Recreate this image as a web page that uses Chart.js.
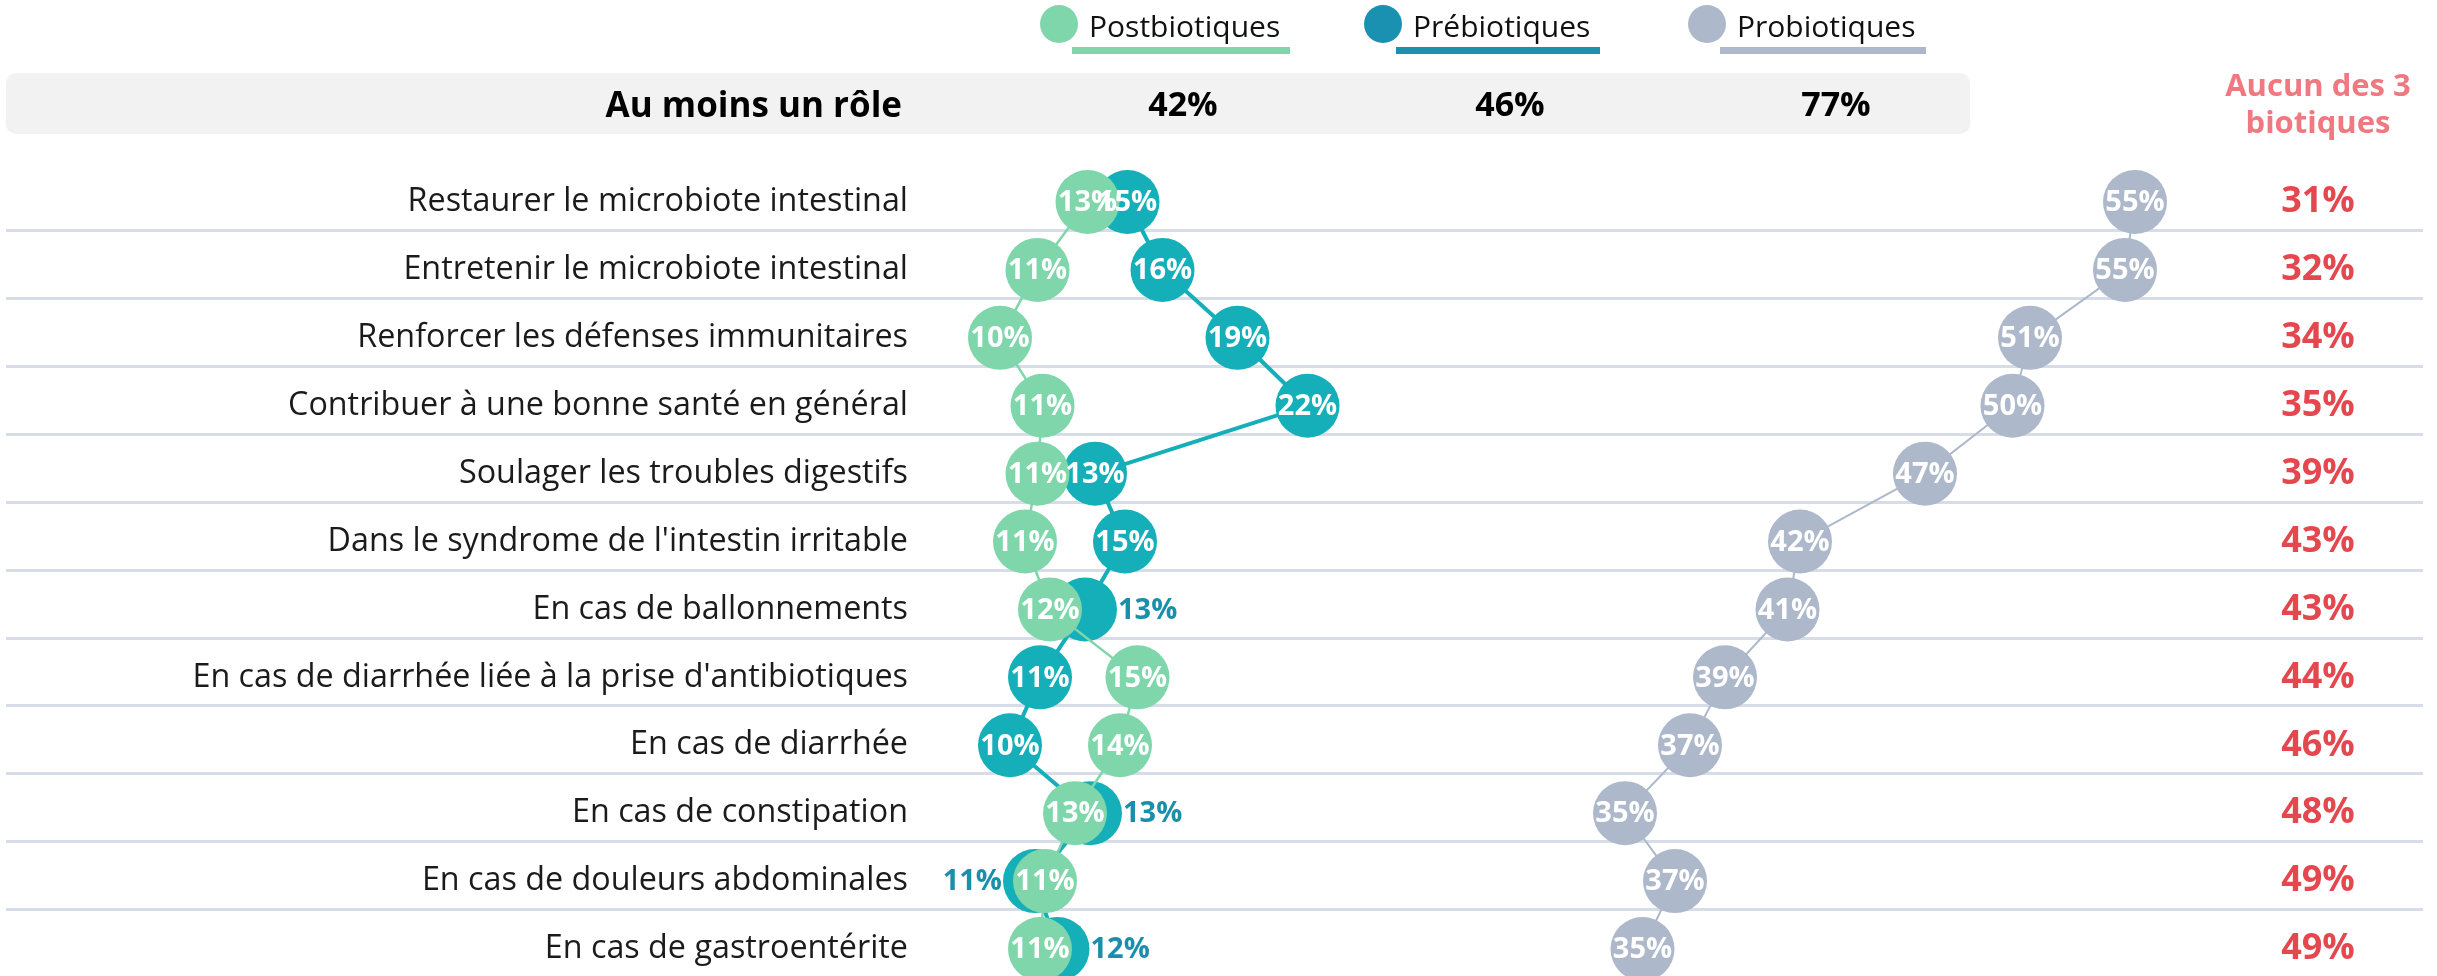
<!DOCTYPE html>
<html><head><meta charset="utf-8">
<script src="https://cdn.jsdelivr.net/npm/chart.js@4.4.1/dist/chart.umd.min.js"></script>
<style>
html,body{margin:0;padding:0;background:#fff;}
#wrap{position:relative;width:2437px;height:976px;overflow:hidden;font-family:"Open Sans",sans-serif;}
#c{position:absolute;left:0;top:0;}
.bar{position:absolute;left:6px;top:73px;width:1964px;height:61px;border-radius:10px;background:#f2f2f2;}
.barTitle{position:absolute;left:0;width:902px;top:73px;height:61px;line-height:61px;text-align:right;font-weight:700;font-size:35px;color:#000;}
.tot{position:absolute;top:73px;height:61px;line-height:61px;width:200px;margin-left:-100px;text-align:center;font-weight:700;font-size:34px;color:#000;}
.leg{position:absolute;top:5px;height:60px;}
.leg .dot{position:absolute;left:0;top:0;width:38px;height:38px;border-radius:50%;}
.leg .lab{position:absolute;left:32px;top:0;padding:0 10px 0 17px;line-height:42px;font-size:30px;color:#111;border-bottom:7px solid;white-space:nowrap;}
.aucun{position:absolute;left:2218px;width:200px;top:66px;text-align:center;font-weight:700;font-size:31px;line-height:37px;color:#f07880;}
</style></head>
<body>
<div id="wrap">
  <canvas id="c" width="2437" height="976"></canvas>
  <div class="bar"></div>
  <div class="barTitle">Au moins un rôle</div>
  <div id="hdr"></div>
  <div class="aucun">Aucun des 3<br>biotiques</div>
</div>
<script>
// ---- data ----
const categories = [
  "Restaurer le microbiote intestinal",
  "Entretenir le microbiote intestinal",
  "Renforcer les défenses immunitaires",
  "Contribuer à une bonne santé en général",
  "Soulager les troubles digestifs",
  "Dans le syndrome de l'intestin irritable",
  "En cas de ballonnements",
  "En cas de diarrhée liée à la prise d'antibiotiques",
  "En cas de diarrhée",
  "En cas de constipation",
  "En cas de douleurs abdominales",
  "En cas de gastroentérite"
];
const seriesNames = ["Postbiotiques", "Prébiotiques", "Probiotiques"];
const postbiotiques = [13.1, 11.1, 9.6, 11.3, 11.1, 10.6, 11.6, 15.1, 14.4, 12.6, 11.4, 11.2];
const prebiotiques  = [14.7, 16.1, 19.1, 21.9, 13.4, 14.6, 13.0, 11.2, 10.0, 13.2, 11.0, 11.9];
const probiotiques  = [55.0, 54.6, 50.8, 50.1, 46.6, 41.6, 41.1, 38.6, 37.2, 34.6, 36.6, 35.3];
const aucunDes3     = [31, 32, 34, 35, 39, 43, 43, 44, 46, 48, 49, 49];
const auMoinsUnRole = [42, 46, 77];

// ---- styles ----
const COL_POST = "#7fd6ab", COL_PRE = "#14afb8", COL_PRO = "#adb8cb";
const LEG_COLORS = ["#7fd6ab", "#1a91b0", "#adb8cb"];
const LEG_X = [1040, 1364, 1688];     // legend item left
const TOT_X = [1183, 1510, 1836];     // totals centers
const FONT = '"Open Sans", sans-serif';

// header (legend + totals)
const hdr = document.getElementById("hdr");
seriesNames.forEach((n, i) => {
  const d = document.createElement("div");
  d.className = "leg"; d.style.left = LEG_X[i] + "px";
  d.innerHTML = '<div class="dot" style="background:' + LEG_COLORS[i] + '"></div>' +
                '<span class="lab" style="border-bottom-color:' + LEG_COLORS[i] + '">' + n + '</span>';
  hdr.appendChild(d);
  const t = document.createElement("div");
  t.className = "tot"; t.style.left = TOT_X[i] + "px";
  t.textContent = auMoinsUnRole[i] + "%";
  hdr.appendChild(t);
});

const pct = v => Math.round(v) + "%";

const separators = {
  id: "separators",
  beforeDatasetsDraw(chart) {
    const y = chart.scales.y, ctx = chart.ctx;
    ctx.save();
    ctx.strokeStyle = "#d6dce8"; ctx.lineWidth = 3;
    for (let i = 0; i < categories.length - 1; i++) {
      const a = y.getPixelForValue(i), b = y.getPixelForValue(i + 1);
      const yy = Math.round(a + (b - a) * 0.413) + 0.5;
      ctx.beginPath(); ctx.moveTo(6, yy); ctx.lineTo(2423, yy); ctx.stroke();
    }
    ctx.restore();
  }
};

const valueLabels = {
  id: "valueLabels",
  afterDatasetsDraw(chart) {
    const ctx = chart.ctx;
    ctx.save();
    ctx.font = "700 29px " + FONT;
    ctx.textBaseline = "middle";
    chart.data.datasets.forEach((ds, di) => {
      const meta = chart.getDatasetMeta(di);
      meta.data.forEach((pt, i) => {
        const v = ds.data[i];
        let x = pt.x, align = "center", color = "#ffffff";
        if (di === 1) {
          const other = postbiotiques[i];
          if (Math.abs(v - other) < 1.5) {
            color = "#1a8fab";
            if (v >= other) { align = "left"; x = pt.x + ds.pointRadius + 1; }
            else { align = "right"; x = pt.x - ds.pointRadius - 1; }
          }
        }
        ctx.textAlign = align; ctx.fillStyle = color;
        ctx.fillText(pct(v), x, pt.y + 1);
      });
    });
    // "Aucun des 3 biotiques" column
    const y = chart.scales.y;
    ctx.font = "700 36px " + FONT;
    ctx.fillStyle = "#e5474e"; ctx.textAlign = "center";
    aucunDes3.forEach((v, i) => ctx.fillText(v + "%", 2318, y.getPixelForValue(i)));
    ctx.restore();
  }
};

function build() {
  new Chart(document.getElementById("c"), {
    type: "line",
    data: {
      labels: categories,
      datasets: [
        { label: seriesNames[0], data: postbiotiques, borderColor: COL_POST, backgroundColor: COL_POST,
          pointBackgroundColor: COL_POST, borderWidth: 2.5, pointRadius: 32, pointBorderWidth: 0, clip: false },
        { label: seriesNames[1], data: prebiotiques, borderColor: COL_PRE, backgroundColor: COL_PRE,
          pointBackgroundColor: COL_PRE, borderWidth: 4, pointRadius: 32, pointBorderWidth: 0, clip: false },
        { label: seriesNames[2], data: probiotiques, borderColor: COL_PRO, backgroundColor: COL_PRO,
          pointBackgroundColor: COL_PRO, borderWidth: 2, pointRadius: 32, pointBorderWidth: 0, clip: false }
      ]
    },
    options: {
      indexAxis: "y",
      responsive: false,
      animation: false,
      events: [],
      devicePixelRatio: 1,
      layout: { autoPadding: false, padding: { left: 0, right: 237, top: 202, bottom: 27 } },
      elements: { line: { tension: 0 } },
      plugins: { legend: { display: false }, tooltip: { enabled: false } },
      scales: {
        x: { type: "linear", display: false, min: 6.8, max: 57.6 },
        y: {
          type: "category", offset: false,
          grid: { display: false, drawTicks: false }, border: { display: false },
          ticks: { autoSkip: false, padding: 22, color: "#1b1b1b", font: { family: FONT, size: 32.3 } },
          afterFit: s => { s.width = 930; s.paddingTop = 0; s.paddingBottom = 0; }
        }
      }
    },
    plugins: [separators, valueLabels]
  });
}
if (document.fonts && document.fonts.load) {
  Promise.all([document.fonts.load('32px "Open Sans"'), document.fonts.load('700 29px "Open Sans"')])
    .then(build, build);
} else build();
</script>
</body></html>
